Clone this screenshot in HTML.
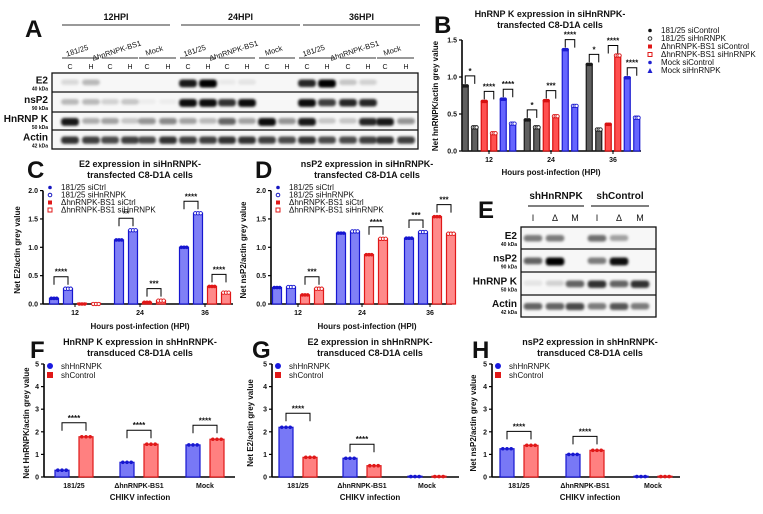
<!DOCTYPE html>
<html><head><meta charset="utf-8"><style>
html,body{margin:0;padding:0;background:#fff}
svg{display:block;font-family:"Liberation Sans",Arial,sans-serif}
</style></head><body>
<svg id="fig" width="763" height="514" viewBox="0 0 763 514">
<defs><filter id="blur" x="-50%" y="-100%" width="200%" height="300%"><feGaussianBlur stdDeviation="1.3"/></filter></defs>
</svg>
<script>
// ---------- Data ----------
const bGroups = ["12","24","36"];
const b181siCtrl = [0.88,0.42,1.17];
const b181siHn = [0.32,0.32,0.29];
const bDsiCtrl = [0.67,0.68,0.36];
const bDsiHn = [0.24,0.47,1.29];
const bMocksiCtrl = [0.70,1.37,0.99];
const bMocksiHn = [0.37,0.61,0.45];
const bTicks = ["0.0","0.5","1.0","1.5"];
const bStars = [["*","****","****"],["*","***","****"],["*","****","****"]];

const cGroups = ["12","24","36"];
const c181siCtrl = [0.10,1.13,1.00];
const c181siHn = [0.27,1.30,1.60];
const cDsiCtrl = [0.00,0.03,0.31];
const cDsiHn = [0.00,0.06,0.20];
const cTicks = ["0.0","0.5","1.0","1.5","2.0"];
const cStars = [["****",""],["**","***"],["****","****"]];

const dGroups = ["12","24","36"];
const d181siCtrl = [0.29,1.25,1.16];
const d181siHn = [0.30,1.28,1.27];
const dDsiCtrl = [0.16,0.87,1.54];
const dDsiHn = [0.27,1.15,1.24];
const dTicks = ["0.0","0.5","1.0","1.5","2.0"];
const dStars = [["","***"],["","****"],["***","***"]];

const shCategories = ["181/25","ΔhnRNPK-BS1","Mock"];
const fShHn = [0.30,0.65,1.42];
const fShCtrl = [1.78,1.45,1.67];
const fStars = ["****","****","****"];
const gShHn = [2.20,0.83,0.02];
const gShCtrl = [0.87,0.50,0.02];
const gStars = ["****","****",""];
const hShHn = [1.25,1.00,0.02];
const hShCtrl = [1.40,1.18,0.02];
const hStars = ["****","****",""];
const shTicks = ["0","1","2","3","4","5"];

// ---------- helpers ----------
const svg=document.getElementById('fig');
const NS="http://www.w3.org/2000/svg";
function el(tag,attrs,parent,text){const e=document.createElementNS(NS,tag);for(const k in attrs)e.setAttribute(k,attrs[k]);if(text!==undefined)e.textContent=text;(parent||svg).appendChild(e);return e;}
function txt(x,y,s,size,opts,parent,name){const o=Object.assign({x:x,y:y,'font-size':size,fill:'#111'},opts||{});const t=el('text',o,parent,s);

return t;}
function grp(name){const g=el('g',{});

return g;}

function yScale(y0,ppu){return v=>y0-v*ppu;}

function drawAxes(g,x0,x1,y0,ppu,ticks,step){
  const ys=yScale(y0,ppu);
  const top=ys((ticks.length-1)*step);
  const ax=el('line',{x1:x0,y1:y0,x2:x0,y2:top,stroke:'#000','stroke-width':1.6},g);
  
  const xa=el('line',{x1:x0,y1:y0,x2:x1,y2:y0,stroke:'#000','stroke-width':1.6},g);
  
  ticks.forEach((t,i)=>{const y=ys(i*step);
    el('line',{x1:x0-3,y1:y,x2:x0,y2:y,stroke:'#000','stroke-width':1.2},g);
    txt(x0-5,y+2.5,t,7,{'text-anchor':'end','font-weight':'bold'},g,'y-tick-label');});
  return ys;
}
function bar(g,cx,w,v,ys,fill,stroke,pt,name){
  const y=ys(v),y0=ys(0);
  const r=el('rect',{x:cx-w/2,y:Math.min(y,y0-0.8),width:w,height:Math.max(y0-y,0.8),fill:fill,stroke:stroke,'stroke-width':1.2},g);
  
  [-w*0.3,0,w*0.3].forEach(o=>{
    if(pt==='open')el('circle',{cx:cx+o,cy:y,r:1.7,fill:'#fff',stroke:stroke,'stroke-width':0.9},g);
    else el('circle',{cx:cx+o,cy:y,r:1.8,fill:stroke},g);});
  return y;
}
function bracket(g,xa,xb,ytop,label){
  if(!label)return;
  el('path',{d:`M${xa} ${ytop+8} V${ytop} H${xb} V${ytop+8}`,fill:'none',stroke:'#000','stroke-width':1},g);
  txt((xa+xb)/2,ytop-2,label,8,{'text-anchor':'middle','font-weight':'bold'},g,'significance-label');
}
function title(x,y,lines,g){lines.forEach((l,i)=>txt(x,y+i*11,l,9,{'text-anchor':'middle','font-weight':'bold'},g,'chart-title'));}
function letter(x,y,s){txt(x,y,s,24,{'font-weight':'bold'},null,'panel-letter-'+s.toLowerCase());}
function yTitle(x,y,s,g){const t=txt(0,0,s,8,{'text-anchor':'middle','font-weight':'bold',transform:`translate(${x},${y}) rotate(-90)`},g,'y-axis-title');}
function legend(g,x,y,dy,items){items.forEach((it,i)=>{const yy=y+i*dy;
  if(it.m==='dot')el('circle',{cx:x,cy:yy-2.5,r:1.8,fill:it.c},g);
  else if(it.m==='odot')el('circle',{cx:x,cy:yy-2.5,r:1.8,fill:'#fff',stroke:it.c,'stroke-width':1},g);
  else if(it.m==='sq')el('rect',{x:x-2,y:yy-4.5,width:4,height:4,fill:it.c},g);
  else if(it.m==='osq')el('rect',{x:x-2,y:yy-4.5,width:4,height:4,fill:'#fff',stroke:it.c,'stroke-width':1},g);
  else if(it.m==='tri')el('path',{d:`M${x} ${yy-5} L${x+2.5} ${yy} L${x-2.5} ${yy}Z`,fill:it.c},g);
  else if(it.m==='bigdot')el('circle',{cx:x,cy:yy-3,r:3,fill:it.c},g);
  else if(it.m==='bigsq')el('rect',{x:x-3,y:yy-6,width:6,height:6,fill:it.c},g);
  txt(x+11,yy,it.t,it.s||8,{},g,'legend-entry');});}

// ---------- Blots ----------
function blot(name,x0,x1,rowsY,labels,kda,lanes,intens){
  const g=grp(name);
  el('rect',{x:x0,y:rowsY[0],width:x1-x0,height:rowsY[rowsY.length-1]-rowsY[0],fill:'#f7f7f7',stroke:'#111','stroke-width':1.3},g);
  for(let r=1;r<rowsY.length-1;r++)el('line',{x1:x0,y1:rowsY[r],x2:x1,y2:rowsY[r],stroke:'#111','stroke-width':1.3},g);
  labels.forEach((l,r)=>{const mid=(rowsY[r]+rowsY[r+1])/2;
    txt(x0-4,mid+1,l,10,{'text-anchor':'end','font-weight':'bold'},g,'blot-row-label');
    txt(x0-4,mid+8,kda[r],5,{'text-anchor':'end','font-weight':'bold'},g,'blot-kda-label');
    intens[r].forEach((v,i)=>{if(v<=0)return;
      const bw=(lanes[1]-lanes[0])*0.85;
      const b=el('rect',{x:lanes[i]-bw/2,y:mid-3,width:bw,height:5+v*3,rx:3,fill:'#000','fill-opacity':v,filter:'url(#blur)'},g);
      });
  });
  return g;
}
const aLanes=[70,91,110,130,147,168,188,208,227,247,267,287,307,327,348,368,385,406];
const aE2=[.12,.25,0,0,0,0,.9,1,.05,.08,0,0,.85,1,.2,.15,0,0];
const aNs=[.25,.25,.15,.2,.04,.04,.95,.95,.8,.95,0,0,.95,.75,.85,.85,0,0];
const aHn=[.9,.3,.35,.2,.4,.45,.35,.25,.6,.35,.95,.4,.9,.2,.2,.85,.9,.4];
const aAc=[.8,.75,.7,.75,.7,.8,.75,.75,.8,.8,.75,.7,.8,.7,.7,.75,.8,.75];
const ga=blot('western-blot-a',52,418,[73,92,112,130,149],['E2','nsP2','HnRNP K','Actin'],['40 kDa','90 kDa','50 kDa','42 kDa'],aLanes,[aE2,aNs,aHn,aAc]);
['12HPI','24HPI','36HPI'].forEach((h,i)=>{const xs=[[62,170],[181,300],[303,420]][i];
  txt((xs[0]+xs[1])/2,20,h,9,{'text-anchor':'middle','font-weight':'bold'},ga,'time-header');
  el('line',{x1:xs[0],y1:25,x2:xs[1],y2:25,stroke:'#333','stroke-width':1},ga);});
['181/25','ΔhnRNPK-BS1','Mock','181/25','ΔhnRNPK-BS1','Mock','181/25','ΔhnRNPK-BS1','Mock'].forEach((s,i)=>{
  const cx=(aLanes[2*i]+aLanes[2*i+1])/2;
  txt(cx-4,52,s,7.5,{'text-anchor':'middle',transform:`rotate(-18 ${cx} 48)`},ga,'sample-label');
  el('line',{x1:aLanes[2*i]-8,y1:58,x2:aLanes[2*i+1]+8,y2:58,stroke:'#333','stroke-width':1},ga);
  txt(aLanes[2*i],69,'C',7,{'text-anchor':'middle'},ga,'lane-label');
  txt(aLanes[2*i+1],69,'H',7,{'text-anchor':'middle'},ga,'lane-label');});
letter(25,37,'A');

const eLanes=[533,555,575,597,619,640];
const ge=blot('western-blot-e',521,656,[227,249,272,295,317],['E2','nsP2','HnRNP K','Actin'],['40 kDa','90 kDa','50 kDa','42 kDa'],eLanes,[[.5,.5,0,.55,.35,0],[.6,1,0,.5,.95,0],[.08,.15,.6,.8,.6,.8],[.6,.6,.7,.5,.65,.5]]);
txt(556,199,'shHnRNPK',10,{'text-anchor':'middle','font-weight':'bold'},ge,'group-header');
txt(620,199,'shControl',10,{'text-anchor':'middle','font-weight':'bold'},ge,'group-header');
el('line',{x1:528,y1:206,x2:584,y2:206,stroke:'#333','stroke-width':1.2},ge);
el('line',{x1:591,y1:206,x2:649,y2:206,stroke:'#333','stroke-width':1.2},ge);
['I','Δ','M','I','Δ','M'].forEach((s,i)=>txt(eLanes[i],221,s,9,{'text-anchor':'middle'},ge,'lane-label'));
letter(478,218,'E');

// ---------- Panel B ----------
(function(){
  const g=grp('chart-b');
  const ys=drawAxes(g,462,641,151,74,bTicks,0.5);
  const centers=[489,551,613];
  const series=[[b181siCtrl,'#5f5f5f','#1a1a1a','dot'],[b181siHn,'#5f5f5f','#1a1a1a','open'],[bDsiCtrl,'#ff4f4f','#d81010','dot'],[bDsiHn,'#ff4f4f','#d81010','open'],[bMocksiCtrl,'#6565ff','#1c1cd0','dot'],[bMocksiHn,'#6565ff','#1c1cd0','open']];
  bGroups.forEach((c,gi)=>{
    const xs=series.map((s,si)=>centers[gi]-23.75+si*9.5);
    const tops=series.map((s,si)=>bar(g,xs[si],6,s[0][gi],ys,s[1],s[2],s[3],'bar-b-'+c+'-'+si));
    for(let p=0;p<3;p++){const t=Math.min(tops[2*p],tops[2*p+1])-10;bracket(g,xs[2*p],xs[2*p+1],t,bStars[gi][p]);}
    el('line',{x1:centers[gi],y1:151,x2:centers[gi],y2:154,stroke:'#000'},g);
    txt(centers[gi],162,c,7,{'text-anchor':'middle','font-weight':'bold'},g,'x-tick-label');
  });
  txt(551,175,'Hours post-infection (HPI)',8,{'text-anchor':'middle','font-weight':'bold'},g,'x-axis-title');
  yTitle(438,96,'Net hnRNPK/actin grey value',g);
  title(550,17,['HnRNP K expression in siHnRNPK-','transfected C8-D1A cells'],g);
  legend(g,650,33,8,[{m:'dot',c:'#111',t:'181/25 siControl'},{m:'odot',c:'#333',t:'181/25 siHnRNPK'},{m:'sq',c:'#e01818',t:'ΔhnRNPK-BS1 siControl'},{m:'osq',c:'#e01818',t:'ΔhnRNPK-BS1 siHnRNPK'},{m:'dot',c:'#2020d0',t:'Mock siControl'},{m:'tri',c:'#2020d0',t:'Mock siHnRNPK'}]);
})();
letter(434,33,'B');

// ---------- Panels C, D ----------
function fourBar(name,x0,x1,centers,groups,s,stars,yt,tt,tx,lx){
  const g=grp(name);
  const ys=drawAxes(g,x0,x1,304,56.7,cTicks,0.5);
  const series=[[s[0],'#8080f6','#1616d0','dot'],[s[1],'#8080f6','#1616d0','open'],[s[2],'#ff8a8a','#e01818','dot'],[s[3],'#ff8a8a','#e01818','open']];
  groups.forEach((c,gi)=>{
    const xs=series.map((q,si)=>centers[gi]-21+si*14);
    const tops=series.map((q,si)=>bar(g,xs[si],9,q[0][gi],ys,q[1],q[2],q[3],'bar-'+name+'-'+c+'-'+si));
    for(let p=0;p<2;p++){const t=Math.min(tops[2*p],tops[2*p+1])-12;bracket(g,xs[2*p],xs[2*p+1],t,stars[gi][p]);}
    el('line',{x1:centers[gi],y1:304,x2:centers[gi],y2:307,stroke:'#000'},g);
    txt(centers[gi],315,c,7,{'text-anchor':'middle','font-weight':'bold'},g,'x-tick-label');
  });
  txt(tx,329,'Hours post-infection (HPI)',8,{'text-anchor':'middle','font-weight':'bold'},g,'x-axis-title');
  yTitle(yt,250,name==='chart-c'?'Net E2/actin grey value':'Net nsP2/actin grey value',g);
  title(tx,167,tt,g);
  legend(g,lx,190,7.5,[{m:'dot',c:'#1616c0',t:'181/25 siCtrl'},{m:'odot',c:'#1616c0',t:'181/25 siHnRNPK'},{m:'sq',c:'#e01818',t:'ΔhnRNPK-BS1 siCtrl'},{m:'osq',c:'#e01818',t:'ΔhnRNPK-BS1 siHnRNPK'}]);
}
fourBar('chart-c',43,233,[75,140,205],cGroups,[c181siCtrl,c181siHn,cDsiCtrl,cDsiHn],cStars,20,['E2 expression in siHnRNPK-','transfected C8-D1A cells'],140,50);
fourBar('chart-d',271,452,[298,362,430],dGroups,[d181siCtrl,d181siHn,dDsiCtrl,dDsiHn],dStars,246,['nsP2 expression in siHnRNPK-','transfected C8-D1A cells'],367,278);
letter(27,178,'C');letter(255,178,'D');

// ---------- Panels F, G, H ----------
function shBar(name,x0,x1,blueX,a,b,stars,tx,yt,ytitle,tt){
  const g=grp(name);
  const ys=drawAxes(g,x0,x1,477,22.6,shTicks,1);
  shCategories.forEach((c,i)=>{
    const xb=blueX[i],xr=blueX[i]+24;
    const t1=bar(g,xb,14,a[i],ys,'#7878f6','#1616d0','dot','bar-'+name+'-shHnRNPK-'+i);
    const t2=bar(g,xr,14,b[i],ys,'#ff8080','#e01818','dot','bar-'+name+'-shControl-'+i);
    bracket(g,xb,xr,Math.min(t1,t2)-14,stars[i]);
    txt((xb+xr)/2,488,c,7,{'text-anchor':'middle','font-weight':'bold'},g,'x-tick-label');
  });
  txt(tx,500,'CHIKV infection',8,{'text-anchor':'middle','font-weight':'bold'},g,'x-axis-title');
  yTitle(yt,423,ytitle,g);
  title(tx,345,tt,g);
  legend(g,x0+6,369,9,[{m:'bigdot',c:'#1a1ae0',t:'shHnRNPK',s:8},{m:'bigsq',c:'#e01818',t:'shControl',s:8}]);
}
shBar('chart-f',44,235,[62,127,193],fShHn,fShCtrl,fStars,140,29,'Net HnRNPK/actin grey value',['HnRNP K expression in shHnRNPK-','transduced C8-D1A cells']);
shBar('chart-g',272,459,[286,350,415],gShHn,gShCtrl,gStars,370,253,'Net E2/actin grey value',['E2 expression in shHnRNPK-','transduced C8-D1A cells']);
shBar('chart-h',492,680,[507,573,641],hShHn,hShCtrl,hStars,590,476,'Net nsP2/actin grey value',['nsP2 expression in shHnRNPK-','transduced C8-D1A cells']);
letter(30,358,'F');letter(252,358,'G');letter(472,358,'H');
</script>
</body></html>
